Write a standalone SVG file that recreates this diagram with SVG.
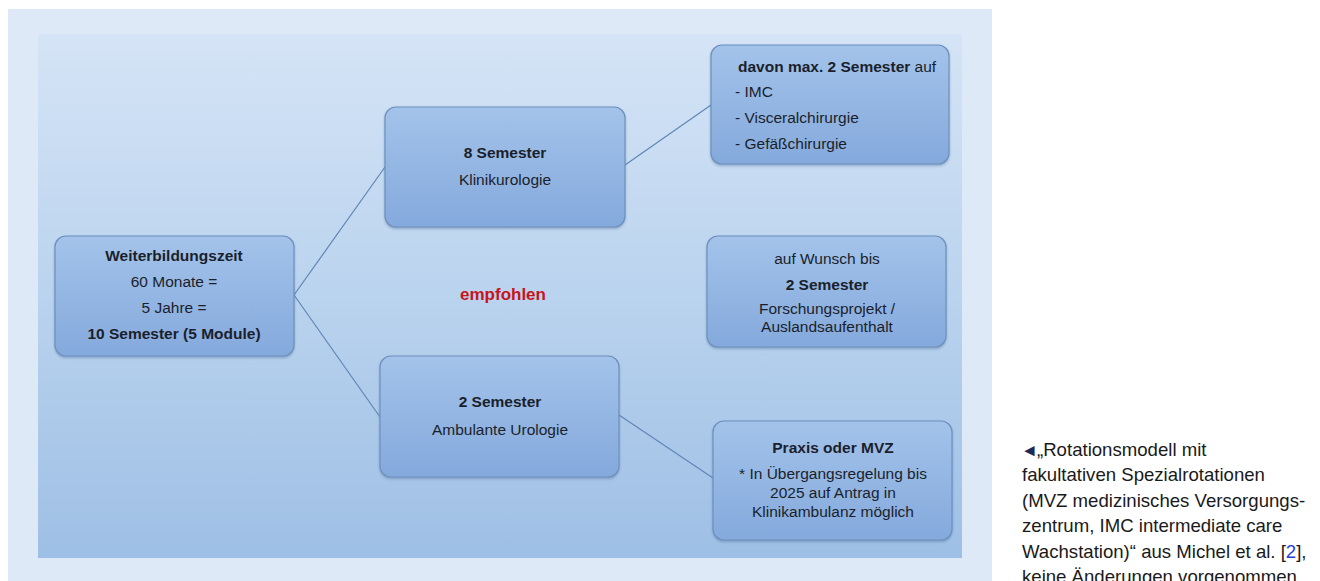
<svg xmlns="http://www.w3.org/2000/svg" width="1320" height="581" viewBox="0 0 1320 581">
<style>
.t{font-family:"Liberation Sans",Arial,sans-serif;font-size:15.5px;fill:#1b1f2b;text-anchor:middle}
.l{text-anchor:start}
.b{font-weight:bold}
.node{fill:url(#nodeGrad);stroke:#6e90bd;stroke-width:1.2;filter:url(#sh)}
.conn{stroke:#5f86b6;stroke-width:1.2;fill:none}
.cap{font-family:"Liberation Sans",Arial,sans-serif;font-size:18.6px;fill:#1a1a1a}
</style>
<defs>
<linearGradient id="bgGrad" x1="0" y1="0" x2="0" y2="1">
<stop offset="0" stop-color="#d5e4f6"/>
<stop offset="0.5" stop-color="#bad3ee"/>
<stop offset="1" stop-color="#9ebfe5"/>
</linearGradient>
<linearGradient id="nodeGrad" x1="0" y1="0" x2="0" y2="1">
<stop offset="0" stop-color="#a3c3ea"/>
<stop offset="1" stop-color="#84a9dc"/>
</linearGradient>
<filter id="sh" x="-10%" y="-10%" width="120%" height="125%">
<feDropShadow dx="0" dy="1.5" stdDeviation="1.2" flood-color="#4a6a96" flood-opacity="0.45"/>
</filter>
</defs>
<rect x="0" y="0" width="1320" height="581" fill="#ffffff"/>
<rect x="8" y="9" width="984" height="572" fill="#dde9f7"/>
<rect x="38" y="34" width="924" height="524" fill="url(#bgGrad)"/>

<g id="connectors">
<line class="conn" x1="294" y1="295" x2="385" y2="167"/>
<line class="conn" x1="294" y1="295" x2="380" y2="417"/>
<line class="conn" x1="625" y1="165" x2="711" y2="105"/>
<line class="conn" x1="619" y1="415" x2="713" y2="478"/>
</g>

<g id="n-weiterbildung">
<rect class="node" x="55" y="236" width="239" height="120" rx="11"/>
<text class="t b" x="174" y="261">Weiterbildungszeit</text>
<text class="t" x="174" y="287">60 Monate =</text>
<text class="t" x="174" y="313">5 Jahre =</text>
<text class="t b" x="174" y="339">10 Semester (5 Module)</text>
</g>

<g id="n-klinik">
<rect class="node" x="385" y="107" width="240" height="120" rx="11"/>
<text class="t b" x="505" y="158">8 Semester</text>
<text class="t" x="505" y="185">Klinikurologie</text>
</g>

<g id="n-davon">
<rect class="node" x="711" y="45" width="238" height="119" rx="11"/>
<text class="t l" x="738" y="72"><tspan class="b">davon max. 2 Semester</tspan> auf</text>
<text class="t l" x="735" y="97">- IMC</text>
<text class="t l" x="735" y="123">- Visceralchirurgie</text>
<text class="t l" x="735" y="149">- Gefäßchirurgie</text>
</g>

<g id="n-wunsch">
<rect class="node" x="707" y="236" width="239" height="111" rx="11"/>
<text class="t" x="827" y="264">auf Wunsch bis</text>
<text class="t b" x="827" y="290">2 Semester</text>
<text class="t" x="827" y="314">Forschungsprojekt /</text>
<text class="t" x="827" y="332">Auslandsaufenthalt</text>
</g>

<g id="n-ambulant">
<rect class="node" x="380" y="356" width="239" height="121" rx="11"/>
<text class="t b" x="500" y="407">2 Semester</text>
<text class="t" x="500" y="435">Ambulante Urologie</text>
</g>

<g id="n-praxis">
<rect class="node" x="713" y="421" width="239" height="119" rx="11"/>
<text class="t b" x="833" y="453">Praxis oder MVZ</text>
<text class="t" x="833" y="479">* In Übergangsregelung bis</text>
<text class="t" x="833" y="498">2025 auf Antrag in</text>
<text class="t" x="833" y="517">Klinikambulanz möglich</text>
</g>

<g id="label-empfohlen">
<text class="t b" x="503" y="300" style="font-size:17px;fill:#c8141c">empfohlen</text>
</g>

<g id="caption">
<text class="cap" x="1021" y="456" style="font-size:17px;fill:#1c2a55">◄</text>
<text class="cap" x="1037" y="456">„Rotationsmodell mit</text>
<text class="cap" x="1022" y="481">fakultativen Spezialrotationen</text>
<text class="cap" x="1022" y="507">(MVZ medizinisches Versorgungs-</text>
<text class="cap" x="1022" y="532">zentrum, IMC intermediate care</text>
<text class="cap" x="1022" y="558">Wachstation)“ aus Michel et al. [<tspan fill="#1f3fd6">2</tspan>],</text>
<text class="cap" x="1022" y="583">keine Änderungen vorgenommen</text>
</g>
</svg>
